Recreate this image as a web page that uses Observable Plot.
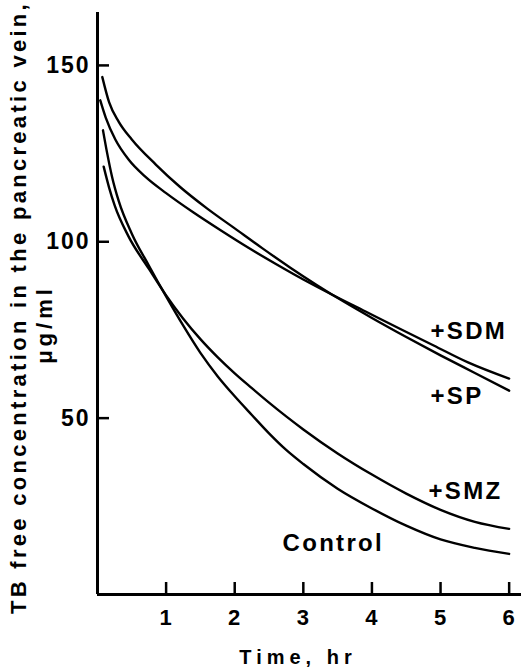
<!DOCTYPE html>
<html>
<head>
<meta charset="utf-8">
<script src="https://cdn.jsdelivr.net/npm/d3@7"></script>
<script src="https://cdn.jsdelivr.net/npm/@observablehq/plot@0.6"></script>
<style>
  body { margin: 0; background: #fff; }
  #chart svg { display: block; }
</style>
</head>
<body>
<div id="chart"></div>
<script>
// Time (hr) and TB free concentration (µg/ml)
const timeSP = [0.07, 0.17, 0.31, 0.5, 0.85, 1.2, 1.6, 2.0, 2.4, 2.8, 3.2, 3.6, 4.0, 4.5, 5.0, 5.5, 6.0];
const concSP = [146.7, 139.5, 134.0, 129.0, 121.9, 115.6, 109.4, 103.8, 98.2, 92.8, 87.7, 82.9, 78.4, 73.0, 67.8, 62.8, 57.8];

const timeSDM = [0.04, 0.12, 0.26, 0.45, 0.7, 1.0, 1.4, 1.8, 2.2, 2.6, 3.0, 3.4, 3.9, 4.4, 4.9, 5.4, 6.0];
const concSDM = [140.1, 135.2, 129.0, 123.4, 118.4, 113.8, 108.3, 103.2, 98.3, 93.7, 89.3, 85.2, 80.3, 75.4, 70.6, 65.8, 61.2];

const timeControl = [0.08, 0.14, 0.21, 0.31, 0.5, 0.75, 1.0, 1.25, 1.5, 1.75, 2.0, 2.25, 2.5, 2.75, 3.0, 3.5, 4.0, 4.5, 5.0, 5.5, 6.0];
const concControl = [131.6, 125.2, 118.6, 111.5, 102.3, 93.2, 84.5, 76.2, 68.5, 61.9, 56.2, 50.9, 45.7, 41.0, 37.0, 30.0, 24.4, 19.5, 15.6, 13.2, 11.5];

const timeSMZ = [0.09, 0.17, 0.25, 0.45, 0.75, 1.0, 1.25, 1.5, 1.75, 2.0, 2.25, 2.5, 2.75, 3.0, 3.5, 4.0, 4.5, 5.0, 5.5, 6.0];
const concSMZ = [121.3, 115.3, 110.3, 101.6, 92.3, 84.8, 78.2, 72.4, 67.3, 62.7, 58.5, 54.4, 50.5, 46.8, 40.0, 34.0, 28.6, 24.0, 20.6, 18.6];

const xTicks = [1, 2, 3, 4, 5, 6];
const yTicks = [50, 100, 150];

const curveLabels = ["+SDM", "+SP", "+SMZ", "Control"];
const curveLabelTime = [4.854, 4.854, 4.825, 2.697];
const curveLabelConc = [74.6, 56.1, 29.2, 14.5];

const yTitle = "TB free concentration in the pancreatic vein,";
const yUnit = "μg/ml";
const xTitle = "Time, hr";

const series = [
  ["+SP", timeSP, concSP],
  ["+SDM", timeSDM, concSDM],
  ["Control", timeControl, concControl],
  ["+SMZ", timeSMZ, concSMZ]
];
const rows = series.flatMap(([name, ts, vs]) => ts.map((t, i) => ({series: name, t, v: vs[i]})));
const labelRows = curveLabels.map((label, i) => ({label, t: curveLabelTime[i], v: curveLabelConc[i]}));

const font = '"Liberation Sans", Arial, Helvetica, sans-serif';

const chart = Plot.plot({
  width: 521,
  height: 672,
  marginLeft: 97,
  marginRight: 0,
  marginTop: 12,
  marginBottom: 78,
  x: {domain: [0, 6.18]},
  y: {domain: [0, 165]},
  style: {fontFamily: font, fontWeight: "bold", color: "#000", background: "#fff", overflow: "visible"},
  marks: [
    Plot.line(rows, {x: "t", y: "v", z: "series", curve: "monotone-x", stroke: "#000", strokeWidth: 2.4}),
    Plot.ruleX([0], {stroke: "#000", strokeWidth: 3}),
    Plot.ruleY([0], {stroke: "#000", strokeWidth: 3}),
    Plot.axisY(yTicks, {tickSize: 12, dx: 12, fill: "none", label: null, strokeWidth: 2.5}),
    Plot.axisY(yTicks, {tickSize: 0, tickPadding: 7, fontSize: 23, fontWeight: "bold", label: null}),
    Plot.axisX(xTicks, {tickSize: 12, dy: -12, fill: "none", label: null, strokeWidth: 2.5}),
    Plot.axisX(xTicks, {tickSize: 0, tickPadding: 15, fontSize: 22, fontWeight: "bold", label: null}),
    Plot.text(labelRows, {x: "t", y: "v", text: "label", textAnchor: "start", lineAnchor: "middle", fontSize: 24, fontWeight: "bold", fill: "#000"}),
    Plot.text([yTitle], {text: d => d, frameAnchor: "left", textAnchor: "middle", rotate: -90, dx: -78.5, dy: 4, fontSize: 22, fontWeight: "bold", fill: "#000", lineAnchor: "middle"}),
    Plot.text([yUnit], {text: d => d, frameAnchor: "left", textAnchor: "middle", rotate: -90, dx: -53, dy: 21, fontSize: 22, fontWeight: "bold", fill: "#000", lineAnchor: "middle"}),
    Plot.text([xTitle], {text: d => d, frameAnchor: "bottom", textAnchor: "middle", dx: -11.5, dy: 63, fontSize: 20, fontWeight: "bold", fill: "#000", lineAnchor: "middle"})
  ]
});

// letter spacing of the original typesetting
const spacing = new Map([
  ...yTicks.map(v => [String(v), "2px"]),
  ...xTicks.map(v => [String(v), "1px"]),
  ...curveLabels.map(s => [s, "2.3px"]),
  [yTitle, "3.3px"],
  [yUnit, "4px"],
  [xTitle, "5px"]
]);
d3.select(chart).selectAll("text").each(function () {
  const s = spacing.get(this.textContent);
  if (s) this.style.letterSpacing = s;
});

document.getElementById("chart").appendChild(chart);
</script>
</body>
</html>
